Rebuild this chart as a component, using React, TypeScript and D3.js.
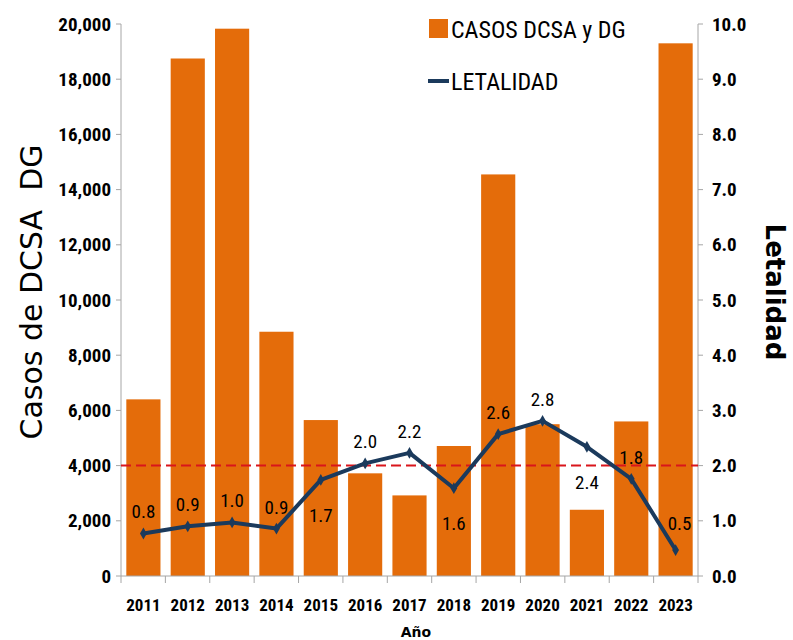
import React from "react";
import * as d3 from "d3";

const years = ["2011", "2012", "2013", "2014", "2015", "2016", "2017", "2018", "2019", "2020", "2021", "2022", "2023"];
const casos = [6400, 18750, 19830, 8850, 5650, 3720, 2920, 4710, 14550, 5500, 2400, 5600, 19300];
const letalidad = [0.77, 0.9, 0.97, 0.86, 1.74, 2.04, 2.23, 1.59, 2.57, 2.81, 2.34, 1.76, 0.47];
const letalidadLabels = ["0.8", "0.9", "1.0", "0.9", "1.7", "2.0", "2.2", "1.6", "2.6", "2.8", "2.4", "1.8", "0.5"];
const labelBelow = [false, false, false, false, true, false, false, true, false, false, true, false, false];
const leftTicks = [0, 2000, 4000, 6000, 8000, 10000, 12000, 14000, 16000, 18000, 20000];
const rightTicks = [0, 1, 2, 3, 4, 5, 6, 7, 8, 9, 10];
const umbral = 2.0;

const W = 793;
const H = 640;
const m = { left: 121, right: 95, top: 24, bottom: 64 };

const narrow = "'Liberation Sans Narrow', 'Arial Narrow', 'Roboto Condensed', Roboto, sans-serif";
const orange = "#e46c0a";
const navy = "#1b3a5c";

export default function App() {
  const x = d3.scaleBand().domain(years).range([m.left, W - m.right]).paddingInner(0.23).paddingOuter(0.12);
  const step = (W - m.right - m.left) / years.length;
  const yL = d3.scaleLinear().domain([0, 20000]).range([H - m.bottom, m.top]);
  const yR = d3.scaleLinear().domain([0, 10]).range([H - m.bottom, m.top]);
  const cx = (i: number) => (x(years[i]) as number) + x.bandwidth() / 2;
  const line = d3
    .line<number>()
    .x((_, i) => cx(i))
    .y((d) => yR(d));
  const fmt = d3.format(",");
  const base = H - m.bottom;

  return (
    <svg width={W} height={H} style={{ position: "absolute", left: 0, top: 0, background: "#fff" }}>
      {casos.map((v, i) => (
        <rect key={years[i]} x={x(years[i])} y={yL(v)} width={x.bandwidth()} height={base - yL(v)} fill={orange} />
      ))}

      {/* left axis */}
      <line x1={m.left} x2={m.left} y1={m.top} y2={base} stroke="#a6a6a6" />
      {leftTicks.map((t) => (
        <g key={t}>
          <line x1={m.left - 5} x2={m.left} y1={yL(t)} y2={yL(t)} stroke="#a6a6a6" />
          <text x={m.left - 10} y={yL(t)} dy="0.35em" textAnchor="end" fontFamily={narrow} fontWeight="bold" fontSize={19}>
            {fmt(t)}
          </text>
        </g>
      ))}

      {/* right axis */}
      <line x1={W - m.right} x2={W - m.right} y1={m.top} y2={base} stroke="#a6a6a6" />
      {rightTicks.map((t) => (
        <g key={t}>
          <line x1={W - m.right} x2={W - m.right + 5} y1={yR(t)} y2={yR(t)} stroke="#a6a6a6" />
          <text x={W - m.right + 14} y={yR(t)} dy="0.35em" fontFamily={narrow} fontWeight="bold" fontSize={19}>
            {t.toFixed(1)}
          </text>
        </g>
      ))}

      {/* x axis */}
      <line x1={m.left} x2={W - m.right} y1={base} y2={base} stroke="#a6a6a6" />
      {d3.range(years.length + 1).map((i) => (
        <line key={i} x1={m.left + i * step} x2={m.left + i * step} y1={base} y2={base + 7} stroke="#a6a6a6" />
      ))}
      {years.map((yr, i) => (
        <text key={yr} x={cx(i)} y={base + 35} textAnchor="middle" fontFamily={narrow} fontWeight="bold" fontSize={17}>
          {yr}
        </text>
      ))}

      {/* threshold */}
      <line x1={m.left} x2={W - m.right} y1={yR(umbral)} y2={yR(umbral)} stroke="#d9151b" strokeWidth={2} strokeDasharray="10,5" />

      {/* line */}
      <path d={line(letalidad) as string} fill="none" stroke={navy} strokeWidth={4} strokeLinejoin="round" />
      {letalidad.map((v, i) => (
        <path key={i} d={d3.symbol(d3.symbolDiamond, 40)() as string} transform={`translate(${cx(i)},${yR(v)})`} fill={navy} />
      ))}
      {letalidad.map((v, i) => (
        <text
          key={i}
          x={cx(i) + (i === 12 ? 4 : 0)}
          y={yR(v) + (labelBelow[i] ? 42 : i === 12 ? -20 : -15)}
          textAnchor="middle"
          fontFamily={narrow}
          fontSize={19}
        >
          {letalidadLabels[i]}
        </text>
      ))}

      {/* axis titles */}
      <text
        transform={`translate(42,${(m.top + base) / 2 - 8}) rotate(-90)`}
        textAnchor="middle"
        fontFamily="'DejaVu Sans', sans-serif"
        fontSize={30}
        xmlSpace="preserve"
      >
        {"Casos de DCSA\u00a0\u00a0DG"}
      </text>
      <text transform={`translate(766,${(m.top + base) / 2 - 8}) rotate(90)`} textAnchor="middle" fontFamily="'DejaVu Sans', sans-serif" fontWeight="bold" fontSize={26}>
        Letalidad
      </text>
      <text x={416} y={637} textAnchor="middle" fontFamily="'DejaVu Sans', sans-serif" fontWeight="bold" fontSize={14}>
        Año
      </text>

      {/* legend */}
      <rect x={429} y={19} width={19} height={19} fill={orange} />
      <text x={451} y={38} fontFamily={narrow} fontSize={24}>
        CASOS DCSA y DG
      </text>
      <line x1={428} x2={449} y1={81} y2={81} stroke={navy} strokeWidth={4} />
      <text x={451} y={90} fontFamily={narrow} fontSize={24}>
        LETALIDAD
      </text>
    </svg>
  );
}
